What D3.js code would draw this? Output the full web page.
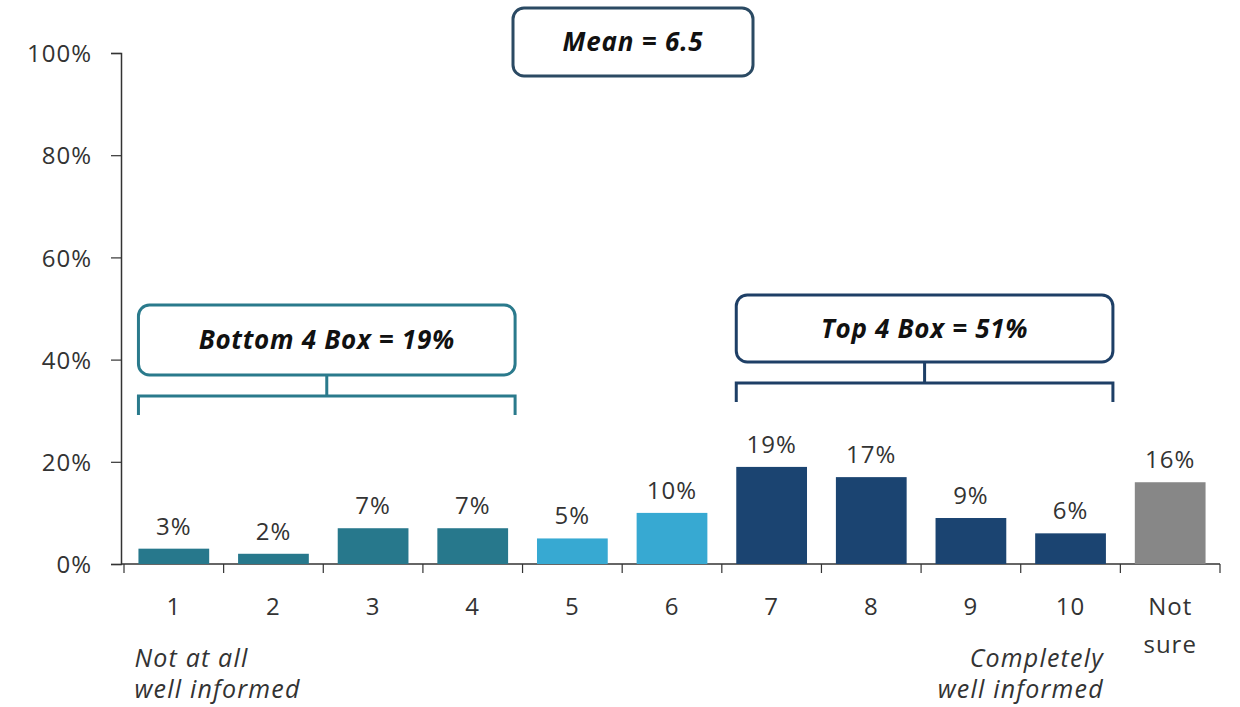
<!DOCTYPE html>
<html>
<head>
<meta charset="utf-8">
<script src="https://cdn.jsdelivr.net/npm/d3@7"></script>
<style>
  body { margin: 0; background: #fff; }
  svg { display: block; font-family: "Open Sans", sans-serif; }
</style>
</head>
<body>
<script>
(function(){
  var width = 1240;
  var height = 707;

  var categories = ["1", "2", "3", "4", "5", "6", "7", "8", "9", "10", "Not sure"];
  var values = [3, 2, 7, 7, 5, 10, 19, 17, 9, 6, 16];
  var barColors = ["#27788c", "#27788c", "#27788c", "#27788c", "#37a9d2", "#37a9d2",
                   "#1b4471", "#1b4471", "#1b4471", "#1b4471", "#878787"];
  var yTicks = [0, 20, 40, 60, 80, 100];
  var boxes = [
    { label: "Bottom 4 Box = 19%", from: "1", to: "4", color: "#2a7a8c" },
    { label: "Top 4 Box = 51%", from: "7", to: "10", color: "#1e3f66" }
  ];
  var meanLabel = "Mean = 6.5";

  var svg = d3.select("body").append("svg")
      .attr("width", width)
      .attr("height", height);

  var x = d3.scaleBand()
      .domain(categories)
      .range([124, 1220])
      .paddingInner(0.29)
      .paddingOuter(0.145);

  var y = d3.scaleLinear()
      .domain([0, 100])
      .range([564, 53]);

  // y axis
  var yAxis = svg.append("g")
      .attr("transform", "translate(121,0)")
      .call(d3.axisLeft(y).tickValues(yTicks).tickSize(10).tickPadding(19)
            .tickFormat(function(d){ return d + "%"; }));
  yAxis.select(".domain").attr("stroke", "#333").attr("stroke-width", 1.5);
  yAxis.selectAll(".tick line").attr("stroke", "#333").attr("stroke-width", 1.2);
  yAxis.selectAll("text").attr("font-size", 24).attr("fill", "#333")
      .attr("letter-spacing", 1)
      .attr("font-family", "'Open Sans', sans-serif").attr("dy", "0.36em");

  // x axis: ticks at category boundaries
  var bounds = categories.map(function(c){ return x(c) - x.step() * x.paddingInner() / 2; });
  bounds.push(x.range()[1]);
  svg.append("line")
      .attr("x1", 121).attr("x2", x.range()[1])
      .attr("y1", y(0)).attr("y2", y(0))
      .attr("stroke", "#333").attr("stroke-width", 1.5);
  svg.selectAll(".xtick").data(bounds).enter().append("line")
      .attr("class", "xtick")
      .attr("x1", function(d){ return d; }).attr("x2", function(d){ return d; })
      .attr("y1", y(0)).attr("y2", y(0) + 9)
      .attr("stroke", "#333").attr("stroke-width", 1.2);

  // bars
  svg.selectAll(".bar").data(values).enter().append("rect")
      .attr("class", "bar")
      .attr("x", function(d, i){ return x(categories[i]); })
      .attr("width", x.bandwidth())
      .attr("y", function(d){ return y(d); })
      .attr("height", function(d){ return y(0) - y(d); })
      .attr("fill", function(d, i){ return barColors[i]; });

  // value labels
  svg.selectAll(".val").data(values).enter().append("text")
      .attr("class", "val")
      .attr("x", function(d, i){ return x(categories[i]) + x.bandwidth() / 2; })
      .attr("y", function(d){ return y(d) - 14; })
      .attr("text-anchor", "middle")
      .attr("font-size", 24)
      .attr("letter-spacing", 1)
      .attr("fill", "#333")
      .text(function(d){ return d + "%"; });

  // category labels
  var cat = svg.selectAll(".cat").data(categories).enter().append("text")
      .attr("class", "cat")
      .attr("x", function(d){ return x(d) + x.bandwidth() / 2; })
      .attr("y", 615)
      .attr("text-anchor", "middle")
      .attr("font-size", 24)
      .attr("letter-spacing", 1)
      .attr("fill", "#333");
  cat.each(function(d){
    var parts = d.split(" ");
    var t = d3.select(this);
    parts.forEach(function(p, i){
      t.append("tspan").attr("x", x(d) + x.bandwidth() / 2)
        .attr("dy", i === 0 ? 0 : 38).text(p);
    });
  });

  // end-point descriptions
  var leftNote = svg.append("text")
      .attr("y", 667)
      .attr("font-size", 25).attr("letter-spacing", 1.2)
      .attr("font-style", "italic").attr("fill", "#333");
  leftNote.append("tspan").attr("x", x("1") - 4).text("Not at all");
  leftNote.append("tspan").attr("x", x("1") - 4).attr("dy", 31).text("well informed");

  var rightNote = svg.append("text")
      .attr("y", 667).attr("text-anchor", "end")
      .attr("font-size", 25).attr("letter-spacing", 1.2)
      .attr("font-style", "italic").attr("fill", "#333");
  rightNote.append("tspan").attr("x", x("10") + x.bandwidth() - 2).text("Completely");
  rightNote.append("tspan").attr("x", x("10") + x.bandwidth() - 2).attr("dy", 31).text("well informed");

  // grouping boxes with brackets
  boxes.forEach(function(b, i){
    var x0 = x(b.from);
    var x1 = x(b.to) + x.bandwidth() + 7;
    var mid = (x0 + x1) / 2;
    var top = i === 0 ? 305 : 295;
    var boxH = i === 0 ? 70 : 67;
    var brY = top + boxH + 21;
    svg.append("rect")
        .attr("x", x0).attr("y", top)
        .attr("width", x1 - x0).attr("height", boxH)
        .attr("rx", 11)
        .attr("fill", "#fff").attr("stroke", b.color).attr("stroke-width", 3);
    svg.append("text")
        .attr("x", mid).attr("y", top + boxH / 2 + 9)
        .attr("text-anchor", "middle")
        .attr("font-size", 26).attr("letter-spacing", 0.7)
        .attr("font-weight", "bold").attr("font-style", "italic")
        .attr("fill", "#111")
        .text(b.label);
    svg.append("path")
        .attr("d", "M" + x0 + "," + (brY + 19) + "V" + brY + "H" + x1 + "V" + (brY + 19) +
                   "M" + mid + "," + brY + "V" + (top + boxH))
        .attr("fill", "none").attr("stroke", b.color).attr("stroke-width", 3);
  });

  // mean box
  svg.append("rect")
      .attr("x", 513).attr("y", 8).attr("width", 240).attr("height", 68)
      .attr("rx", 11)
      .attr("fill", "#fff").attr("stroke", "#2b4a63").attr("stroke-width", 3);
  svg.append("text")
      .attr("x", 633).attr("y", 51)
      .attr("text-anchor", "middle")
      .attr("font-size", 26).attr("letter-spacing", 0.8)
      .attr("font-weight", "bold").attr("font-style", "italic")
      .attr("fill", "#111")
      .text(meanLabel);
})();
</script>
</body>
</html>
